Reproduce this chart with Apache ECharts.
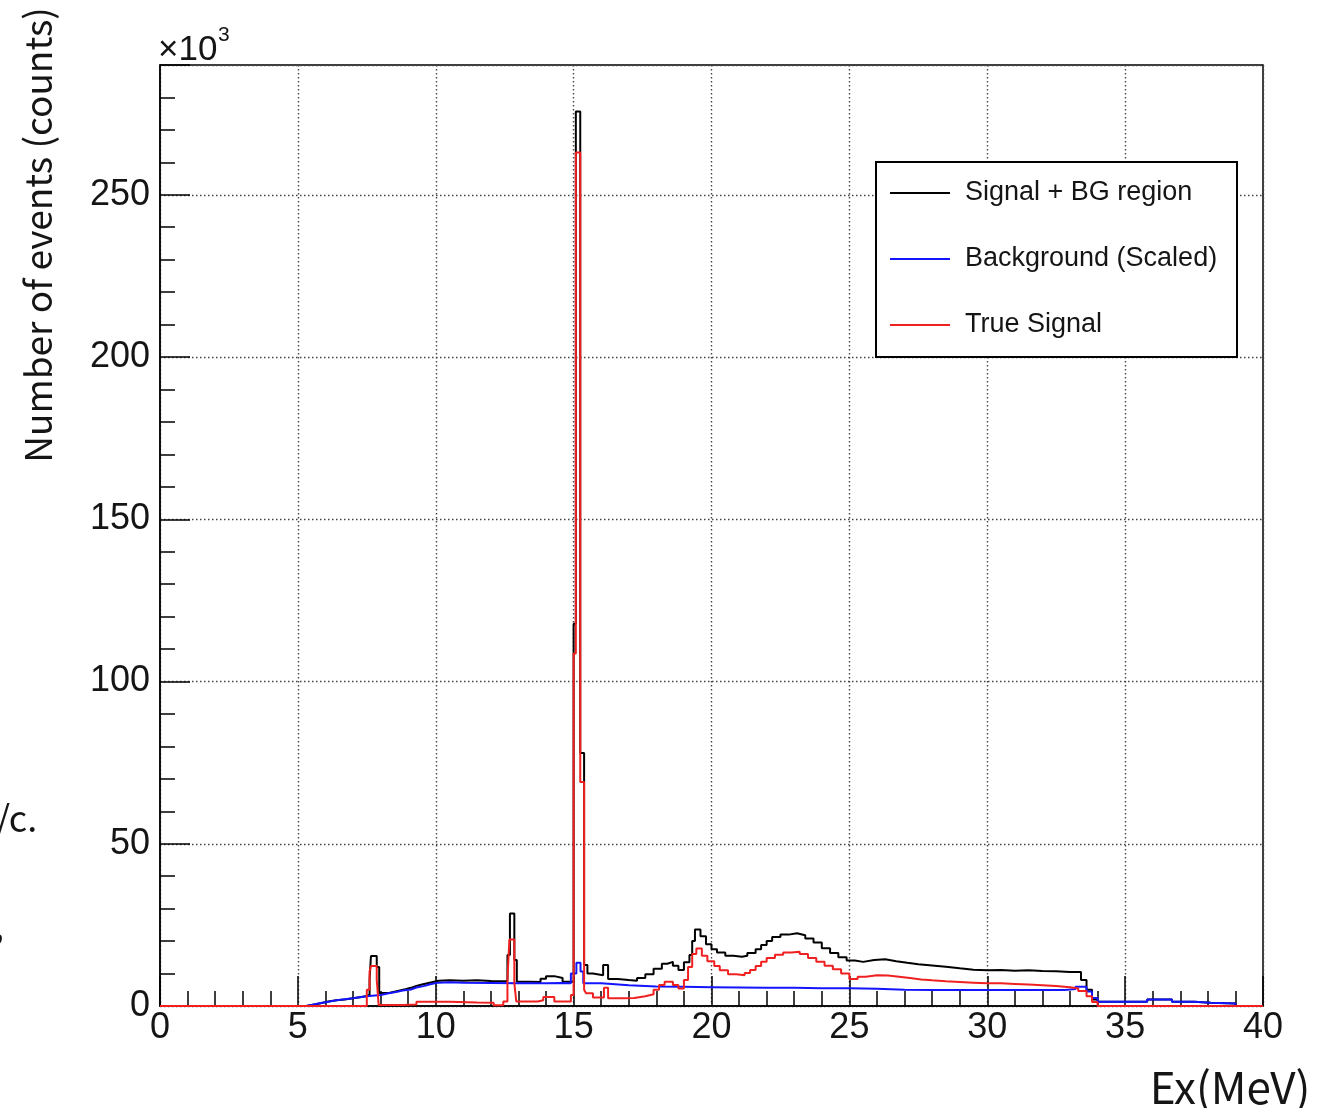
<!DOCTYPE html>
<html>
<head>
<meta charset="utf-8">
<script src="https://cdn.jsdelivr.net/npm/echarts@6/dist/echarts.min.js"></script>
<style>
html,body{margin:0;padding:0;background:#fff;}
#chart{width:1339px;height:1108px;}
</style>
</head>
<body>
<div id="chart"></div>
<script>
// ---- Data (counts in units of 10^3), histogram bins given by lower edge ----
const seriesNames = ['Signal + BG region', 'Background (Scaled)', 'True Signal'];
const xMax = 40;

const sigBgEdges = [0, 5.3, 5.5, 5.7, 5.9, 6.1, 6.4, 6.7, 7.0, 7.3, 7.5, 7.6, 7.65, 7.86, 7.95, 8.1, 8.3, 8.5, 8.7, 8.9, 9.1, 9.3, 9.5, 9.7, 9.9, 10.1, 10.5, 11.0, 11.5, 12.0, 12.4, 12.6, 12.69, 12.85, 12.94, 13.4, 13.8, 14.0, 14.3, 14.6, 15.0, 15.08, 15.24, 15.38, 15.5, 15.7, 16.07, 16.25, 16.6, 17.0, 17.3, 17.6, 17.9, 18.2, 18.4, 18.6, 18.8, 19.0, 19.2, 19.3, 19.4, 19.6, 19.8, 20.0, 20.2, 20.5, 20.8, 21.1, 21.3, 21.6, 21.8, 22.0, 22.2, 22.5, 22.8, 23.1, 23.4, 23.7, 24.0, 24.3, 24.6, 24.9, 25.2, 25.5, 25.9, 26.3, 26.7, 27.1, 27.5, 28.0, 28.5, 29.0, 29.5, 30.0, 30.5, 31.0, 31.5, 32.0, 32.5, 33.0, 33.4, 33.6, 33.8, 34.0, 35.8, 36.7, 37.5, 38.1, 39.0];
const sigBgCounts = [0, 0.3, 0.6, 1.0, 1.4, 1.8, 2.0, 2.4, 2.8, 3.1, 3.5, 8.0, 15.4, 12.0, 4.0, 4.0, 4.4, 4.8, 5.2, 5.6, 6.2, 6.6, 7.0, 7.4, 7.8, 7.9, 7.8, 7.9, 7.7, 7.6, 7.7, 15.7, 28.5, 14.2, 7.5, 7.4, 8.4, 9.2, 8.6, 7.5, 117.8, 275.7, 78.0, 12.6, 10.0, 9.5, 12.6, 8.3, 8.0, 7.8, 8.6, 9.8, 11.5, 13.0, 13.6, 12.4, 11.1, 13.5, 15.7, 20.0, 23.6, 21.5, 19.0, 17.5, 16.5, 15.5, 15.2, 15.5, 16.3, 17.5, 18.8, 20.0, 21.3, 22.0, 22.4, 21.8, 20.8, 19.6, 17.8, 16.3, 15.0, 14.0, 13.6, 14.2, 14.4, 13.8, 13.3, 12.9, 12.5, 12.1, 11.6, 11.2, 11.0, 11.1, 10.9, 11.0, 10.8, 10.7, 10.5, 10.5, 8.0, 5.0, 2.0, 1.3, 2.0, 1.3, 1.0, 0.8, 0];

const bgEdges = [0, 5.3, 5.5, 5.7, 5.9, 6.1, 6.4, 6.7, 7.0, 7.3, 7.6, 8.0, 8.3, 8.6, 8.8, 9.1, 9.3, 9.6, 9.8, 10.1, 10.5, 11.0, 12.0, 13.0, 14.0, 14.5, 14.9, 15.1, 15.25, 15.35, 16.0, 17.0, 18.0, 19.0, 20.0, 21.0, 22.0, 23.0, 24.0, 25.0, 26.0, 27.0, 28.0, 29.0, 30.0, 31.0, 32.0, 32.8, 33.2, 33.6, 33.8, 34.0, 35.8, 36.7, 37.5, 38.1, 39.0];
const bgCounts = [0, 0.3, 0.7, 1.0, 1.3, 1.8, 2.1, 2.4, 2.8, 3.1, 3.4, 3.9, 4.4, 4.8, 5.1, 5.7, 6.2, 6.7, 7.2, 7.3, 7.2, 7.1, 7.0, 7.0, 7.1, 7.0, 10.0, 13.3, 10.6, 7.0, 6.4, 6.0, 5.9, 5.8, 5.7, 5.6, 5.6, 5.5, 5.5, 5.3, 5.0, 4.9, 4.9, 4.9, 4.9, 4.9, 4.9, 5.2, 5.9, 4.5, 2.5, 1.3, 2.0, 1.3, 1.0, 0.8, 0];

const trueEdges = [0, 7.5, 7.6, 7.65, 7.86, 7.93, 8.8, 9.3, 10.5, 11.5, 12.1, 12.45, 12.6, 12.67, 12.85, 12.92, 13.7, 13.9, 14.3, 14.9, 15.0, 15.08, 15.24, 15.38, 15.45, 15.7, 16.1, 16.25, 16.8, 17.2, 17.6, 17.9, 18.1, 18.3, 18.6, 18.8, 19.0, 19.15, 19.3, 19.45, 19.65, 19.85, 20.1, 20.3, 20.6, 20.9, 21.2, 21.4, 21.6, 21.8, 22.0, 22.3, 22.6, 22.9, 23.2, 23.5, 23.8, 24.1, 24.4, 24.7, 25.0, 25.3, 25.6, 26.0, 26.4, 26.8, 27.2, 27.6, 28.0, 28.5, 29.0, 29.5, 30.0, 30.5, 31.0, 31.5, 32.0, 32.5, 33.0, 33.3, 33.6, 33.8, 34.0];
const trueCounts = [0, 5.0, 10.6, 12.3, 8.0, 0.3, 0.5, 1.3, 1.1, 1.0, 0.2, 1.4, 8.0, 20.5, 7.0, 1.4, 1.8, 2.8, 1.4, 3.4, 108.6, 263.0, 69.0, 5.0, 3.9, 2.6, 5.6, 2.4, 2.5, 3.0, 3.6, 5.0, 6.5, 7.5, 6.5, 5.4, 8.0, 12.0, 16.0, 17.7, 15.5, 13.8, 12.3, 11.0, 9.8, 9.5, 10.2, 11.1, 12.3, 13.6, 14.8, 15.8, 16.5, 16.7, 16.0, 14.8, 13.6, 12.4, 11.3, 10.0, 8.3, 9.0, 9.5, 9.4, 9.0, 8.6, 8.2, 7.9, 7.6, 7.4, 7.2, 7.0, 7.0, 6.8, 6.6, 6.4, 6.2, 5.8, 5.4, 4.6, 3.0, 1.2, 0];

function histData(edges, counts) {
  const d = edges.map((e, i) => [e, counts[i]]);
  d.push([xMax, counts[counts.length - 1]]);
  return d;
}

const colors = ['#000000', '#1414ff', '#f02020'];
const chart = echarts.init(document.getElementById('chart'), null, {renderer: 'canvas'});
const labelFont = 'Liberation Sans, Arial, Helvetica, sans-serif';
const cjkFont = '"Noto Sans CJK JP", "Noto Sans", sans-serif';
const gridStyle = {color: '#444', width: 1.4, type: [1.5, 2.5]};
const textColor = '#151515';

const legendChildren = [
  {type: 'rect', z: 50, shape: {x: 876, y: 162, width: 361, height: 195}, style: {fill: '#fff', stroke: '#000', lineWidth: 2}}
];
seriesNames.forEach((n, i) => {
  legendChildren.push({type: 'line', z: 51, shape: {x1: 890, y1: 193 + i * 66, x2: 950, y2: 193 + i * 66}, style: {stroke: colors[i], lineWidth: 2}});
  legendChildren.push({type: 'text', z: 51, x: 965, y: 193 + i * 66, style: {text: n, font: '27px ' + labelFont, fill: textColor, verticalAlign: 'middle'}});
});

const option = {
  animation: false,
  backgroundColor: '#fff',
  grid: {left: 160, top: 65, width: 1103, height: 941, show: true, borderColor: '#000', borderWidth: 1.5, backgroundColor: 'transparent'},
  xAxis: {
    type: 'value', min: 0, max: xMax, interval: 5,
    axisLine: {show: true, onZero: false, lineStyle: {color: '#000', width: 1.5}},
    axisTick: {show: true, inside: true, length: 30, lineStyle: {color: '#000', width: 1.5}},
    minorTick: {show: true, splitNumber: 5, length: 15, lineStyle: {color: '#000', width: 1.5}},
    splitLine: {show: true, lineStyle: gridStyle},
    axisLabel: {fontSize: 36, fontFamily: labelFont, color: textColor, margin: 4, showMaxLabel: true, showMinLabel: true}
  },
  yAxis: [{
    type: 'value', min: 0, max: 290, interval: 50, position: 'left',
    axisLine: {show: true, lineStyle: {color: '#000', width: 1.5}},
    axisTick: {show: true, inside: true, length: 30, lineStyle: {color: '#000', width: 1.5}},
    splitLine: {show: true, lineStyle: gridStyle},
    axisLabel: {fontSize: 36, fontFamily: labelFont, color: textColor, margin: 10,
      formatter: v => (v % 50 === 0 ? String(v) : '')}
  }, {
    type: 'value', min: 0, max: 290, interval: 10, position: 'left',
    axisLine: {show: false},
    axisTick: {show: true, inside: true, length: 15, lineStyle: {color: '#000', width: 1.5}},
    splitLine: {show: false},
    axisLabel: {show: false}
  }],
  series: [
    {name: seriesNames[0], type: 'line', step: 'end', symbol: 'none', data: histData(sigBgEdges, sigBgCounts), lineStyle: {color: colors[0], width: 2}, z: 3},
    {name: seriesNames[1], type: 'line', step: 'end', symbol: 'none', data: histData(bgEdges, bgCounts), lineStyle: {color: colors[1], width: 2}, z: 4},
    {name: seriesNames[2], type: 'line', step: 'end', symbol: 'none', data: histData(trueEdges, trueCounts), lineStyle: {color: colors[2], width: 2}, z: 5}
  ],
  graphic: [
    {type: 'text', z: 10, x: 158, y: 50, style: {text: '×10', font: '35px ' + labelFont, fill: textColor, verticalAlign: 'middle'}},
    {type: 'text', z: 10, x: 218, y: 35, style: {text: '3', font: '21px ' + labelFont, fill: textColor, verticalAlign: 'middle'}},
    {type: 'text', z: 10, x: 38, y: 235, rotation: Math.PI / 2,
      style: {text: 'Number of events (counts)', font: '37px ' + cjkFont, fill: textColor, align: 'center', verticalAlign: 'middle'}},
    {type: 'text', z: 10, x: 1230, y: 1087,
      style: {text: 'Ex(MeV)', font: '44px ' + cjkFont, fill: textColor, align: 'center', verticalAlign: 'middle'}},
    {type: 'text', z: 10, x: -4, y: 818,
      style: {text: '/c.', font: '36px ' + cjkFont, fill: textColor, align: 'left', verticalAlign: 'middle'}},
    {type: 'text', z: 10, x: -6, y: 925,
      style: {text: ',', font: '36px ' + cjkFont, fill: textColor, align: 'left', verticalAlign: 'middle'}},
    {type: 'group', z: 50, children: legendChildren}
  ]
};
chart.setOption(option);
</script>
</body>
</html>
